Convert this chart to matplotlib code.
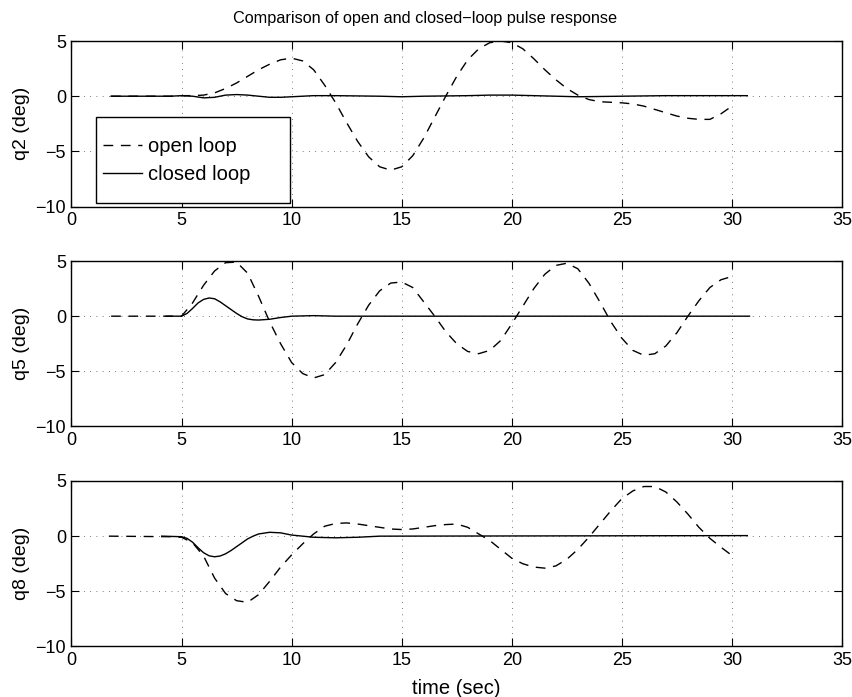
import matplotlib
matplotlib.use("Agg")
import matplotlib.pyplot as plt
from matplotlib.patches import Rectangle

plt.rcParams['font.family'] = ['Liberation Sans', 'DejaVu Sans']

# q2 response
q2_open_t = [1.8, 4.5, 5, 5.5, 6, 6.5, 7, 7.5, 8, 8.5, 9, 9.5, 10, 10.5, 11, 11.5, 12, 12.5,
             13, 13.5, 14, 14.5, 15, 15.5, 16, 16.5, 17, 17.5, 18, 18.5, 19, 19.5, 20, 20.5,
             21, 21.5, 22, 22.5, 23, 23.5, 24, 24.5, 25, 25.5, 26, 26.5, 27, 27.5, 28, 28.5,
             29, 29.5, 30]
q2_open = [0, 0, 0.05, 0.05, 0.1, 0.3, 0.7, 1.2, 1.8, 2.4, 2.9, 3.3, 3.45, 3.2, 2.4, 1.0, -0.6, -2.4,
           -4.1, -5.5, -6.4, -6.7, -6.4, -5.4, -3.8, -1.9, 0.0, 1.8, 3.3, 4.3, 4.85, 5.0, 4.85, 4.3,
           3.4, 2.4, 1.5, 0.7, 0.1, -0.3, -0.5, -0.55, -0.6, -0.7, -0.9, -1.2, -1.5, -1.8, -2.0, -2.1,
           -2.1, -1.6, -0.9]
q2_closed_t = [1.8, 4.5, 5, 5.5, 6, 6.5, 7, 7.5, 8, 8.5, 9, 9.5, 10, 11, 12, 14, 15, 16, 18, 19,
               20, 21, 22, 23, 25, 27, 30.7]
q2_closed = [0, 0, 0.05, 0.0, -0.15, -0.1, 0.1, 0.15, 0.1, 0.0, -0.1, -0.1, -0.05, 0.05, 0.05, 0.0,
             -0.05, 0, 0.05, 0.1, 0.1, 0.05, 0, -0.05, 0, 0.05, 0.05]

# q5 response
q5_open_t = [1.8, 4.5, 5, 5.5, 6, 6.5, 7, 7.5, 8, 8.5, 9, 9.5, 10, 10.5, 11, 11.5, 12, 12.5,
             13, 13.5, 14, 14.5, 15, 15.5, 16, 16.5, 17, 17.5, 18, 18.5, 19, 19.5, 20, 20.5,
             21, 21.5, 22, 22.5, 23, 23.5, 24, 24.5, 25, 25.5, 26, 26.5, 27, 27.5, 28, 28.5,
             29, 29.5, 30]
q5_open = [0, 0, 0, 1.2, 2.8, 4.1, 4.85, 4.9, 3.9, 1.8, -0.5, -2.5, -4.2, -5.2, -5.6, -5.3, -4.2, -2.6,
           -0.7, 1.0, 2.3, 3.0, 3.1, 2.6, 1.3, 0.0, -1.4, -2.5, -3.2, -3.4, -3.1, -2.2, -0.7, 0.9,
           2.5, 3.8, 4.6, 4.8, 4.3, 3.0, 1.3, -0.5, -2.0, -3.1, -3.55, -3.4, -2.7, -1.5, 0.0, 1.4,
           2.6, 3.3, 3.6]
q5_closed_t = [4.3, 5, 5.25, 5.5, 5.75, 6, 6.25, 6.5, 6.75, 7, 7.25, 7.5, 7.75, 8, 8.25, 8.5, 9,
               9.5, 10, 11, 12, 30.8]
q5_closed = [0, 0, 0.25, 0.7, 1.2, 1.52, 1.65, 1.58, 1.3, 0.95, 0.6, 0.25, -0.05, -0.25, -0.33,
             -0.35, -0.28, -0.12, 0.0, 0.05, 0.0, 0]

# q8 response
q8_open_t = [1.7, 4.5, 5, 5.5, 6, 6.5, 7, 7.5, 8, 8.5, 9, 9.5, 10, 10.5, 11, 11.5, 12, 12.5,
             13, 13.5, 14, 14.5, 15, 15.5, 16, 16.5, 17, 17.5, 18, 18.5, 19, 19.5, 20, 20.5,
             21, 21.5, 22, 22.5, 23, 23.5, 24, 24.5, 25, 25.5, 26, 26.5, 27, 27.5, 28, 28.5,
             29, 29.5, 30]
q8_open = [0, -0.05, -0.1, -0.6, -1.8, -3.8, -5.2, -5.85, -6.0, -5.3, -4.1, -2.8, -1.7, -0.7, 0.2, 0.9,
           1.15, 1.2, 1.1, 0.95, 0.8, 0.65, 0.6, 0.65, 0.8, 0.95, 1.05, 1.1, 0.8, 0.2, -0.4, -1.2,
           -2.0, -2.5, -2.8, -2.9, -2.7, -2.1, -1.2, -0.1, 1.1, 2.3, 3.4, 4.1, 4.5, 4.5, 4.0, 3.1,
           2.0, 0.8, -0.2, -1.0, -1.75]
q8_closed_t = [4.1, 5, 5.25, 5.5, 5.75, 6, 6.25, 6.5, 6.75, 7, 7.25, 7.5, 7.75, 8, 8.25, 8.5, 9,
               9.5, 10, 10.5, 11, 12, 13, 14, 30.7]
q8_closed = [0, -0.05, -0.2, -0.55, -1.05, -1.5, -1.78, -1.87, -1.8, -1.6, -1.3, -0.95, -0.6,
             -0.25, 0.0, 0.2, 0.35, 0.3, 0.1, 0.0, -0.1, -0.15, -0.1, 0.0, 0.05]

ylabels = ['q2 (deg)', 'q5 (deg)', 'q8 (deg)']
series = [(q2_open_t, q2_open, q2_closed_t, q2_closed),
          (q5_open_t, q5_open, q5_closed_t, q5_closed),
          (q8_open_t, q8_open, q8_closed_t, q8_closed)]
bottoms = [0.7037, 0.3881, 0.0725]

fig = plt.figure(figsize=(8.53, 6.97), dpi=100)
axes = []
for i in range(3):
    ax = fig.add_axes([0.0838, bottoms[i], 0.9033, 0.2374])
    ot, ov, ct, cv = series[i]
    ax.plot(ot, ov, color='black', linestyle=(0, (7, 5.5)), linewidth=1.0, label='open loop')
    ax.plot(ct, cv, color='black', linestyle='-', linewidth=1.0, label='closed loop')
    ax.set_xlim(0, 35)
    ax.set_ylim(-10, 5)
    ax.set_xticks(range(0, 36, 5))
    ax.set_yticks([-10, -5, 0, 5])
    ax.grid(True, linestyle=(0, (1, 6.5)), color='0.3', linewidth=0.6)
    ax.tick_params(direction='in', top=True, right=True, labelsize=13, length=5.5, pad=4)
    ax.set_ylabel(ylabels[i], fontsize=14, labelpad=4)
    for s in ax.spines.values():
        s.set_linewidth(1.0)
    axes.append(ax)

fig.text(425.5 / 853, 1 - 19 / 697, 'Comparison of open and closed\u2212loop pulse response',
         fontsize=11.7, ha='center', va='center')
axes[2].set_xlabel('time (sec)', fontsize=14.5, labelpad=7)

# legend box drawn like MATLAB's
axes[0].add_patch(Rectangle((0.0318, 0.0211), 0.2518, 0.5196, transform=axes[0].transAxes,
                            facecolor='white', edgecolor='black', linewidth=1.0, zorder=4))
leg = axes[0].legend(loc='center left', bbox_to_anchor=(0.0409, 0.2755), fontsize=14.5,
                     frameon=False, borderpad=0, borderaxespad=0, labelspacing=0.45,
                     handlelength=1.95, handletextpad=0.3)
leg.set_zorder(5)

fig.savefig('out.png', dpi=100)
